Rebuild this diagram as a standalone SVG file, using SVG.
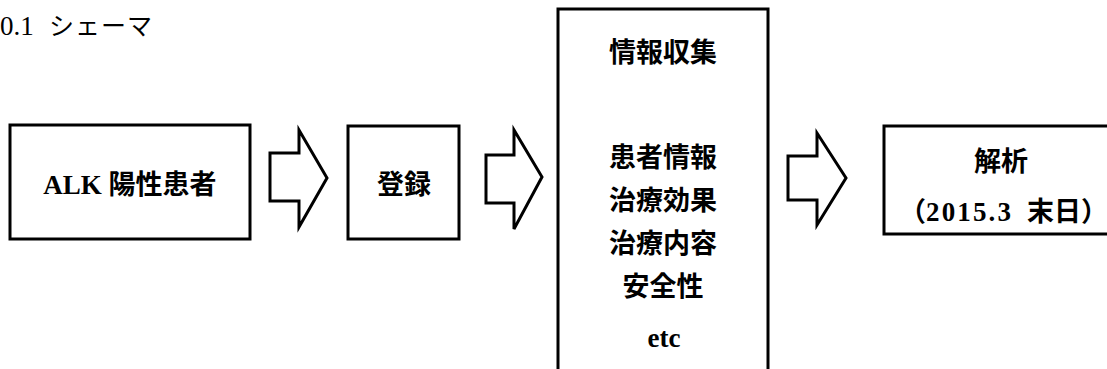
<svg xmlns="http://www.w3.org/2000/svg" width="1107" height="369" viewBox="0 0 1107 369">
<style>
.box{fill:#fff;stroke:#000;stroke-width:3}
.arr{fill:#fff;stroke:#000;stroke-width:3;stroke-linejoin:miter}
.t{font-family:"Liberation Serif","Noto Sans CJK JP",serif;font-weight:bold;font-size:27px;fill:#000}
.c{text-anchor:middle}
.title{font-family:"Liberation Serif","Noto Sans CJK JP",serif;font-size:27px;fill:#000}
</style>
<rect width="1107" height="369" fill="#fff"/>
<text class="title" x="0" y="35">0.1 <tspan x="49" font-size="25" letter-spacing="1">シェーマ</tspan></text>
<g id="n1">
<rect class="box" x="10" y="125" width="240" height="114"/>
<text class="t c" x="130" y="194">ALK 陽性患者</text>
</g>
<g id="n2">
<rect class="box" x="348" y="126" width="111" height="113"/>
<text class="t c" x="404" y="194">登録</text>
</g>
<g id="n3">
<rect class="box" x="558" y="9" width="210" height="380"/>
<text class="t c" x="663" y="62">情報収集</text>
<text class="t c" x="663" y="167">患者情報</text>
<text class="t c" x="663" y="210">治療効果</text>
<text class="t c" x="663" y="253">治療内容</text>
<text class="t c" x="663" y="296">安全性</text>
<text class="t c" x="664" y="347" font-size="28">etc</text>
</g>
<g id="n4">
<rect class="box" x="884" y="126" width="250" height="108"/>
<text class="t c" x="1001" y="171">解析</text>
<text class="t" x="899" y="221">（<tspan x="926" textLength="85" lengthAdjust="spacing">2015.3</tspan> <tspan x="1027">末日</tspan>）</text>
</g>
<g id="connectors">
<path class="arr" d="M270,153 H299 V130 L327,178 L299,227 V201 H270 Z"/>
<path class="arr" d="M486,155 H514 V130 L542,177 L514,229 V203 H486 Z"/>
<path class="arr" d="M788,156 H817 V133 L846,178 L817,225 V200 H788 Z"/>
</g>
</svg>
